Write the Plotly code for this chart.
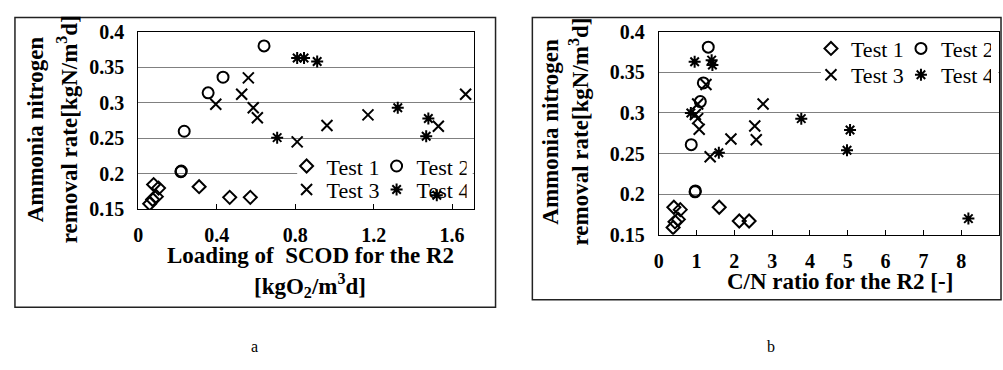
import plotly.graph_objects as go

W, H = 1003, 370

# ---------------- data: panel a (SCOD loading) ----------------
a_t1_x = [0.078, 0.103, 0.092, 0.073, 0.058, 0.31, 0.466, 0.571]
a_t1_y = [0.185, 0.180, 0.168, 0.164, 0.158, 0.182, 0.167, 0.167]
a_t2_x = [0.234, 0.217, 0.219, 0.356, 0.432, 0.641]
a_t2_y = [0.260, 0.203, 0.204, 0.314, 0.336, 0.380]
a_t3_x = [0.395, 0.527, 0.561, 0.586, 0.607, 0.81, 0.962, 1.171, 1.530, 1.669]
a_t3_y = [0.298, 0.312, 0.335, 0.293, 0.279, 0.245, 0.268, 0.283, 0.267, 0.312]
a_t4_x = [0.81, 0.845, 0.912, 0.708, 1.323, 1.479, 1.468, 1.522]
a_t4_y = [0.363, 0.363, 0.358, 0.251, 0.293, 0.278, 0.253, 0.170]

# ---------------- data: panel b (C/N ratio) ----------------
b_t1_x = [0.40, 0.57, 0.52, 0.43, 0.38, 1.60, 2.13, 2.39]
b_t1_y = [0.184, 0.181, 0.169, 0.166, 0.159, 0.184, 0.167, 0.167]
b_t2_x = [0.86, 0.96, 0.97, 1.10, 1.18, 1.31]
b_t2_y = [0.261, 0.203, 0.204, 0.314, 0.337, 0.381]
b_t3_x = [1.25, 1.03, 2.76, 0.97, 1.03, 1.07, 1.36, 1.91, 2.54, 2.58]
b_t3_y = [0.335, 0.311, 0.311, 0.298, 0.293, 0.280, 0.246, 0.268, 0.284, 0.267]
b_t4_x = [0.95, 1.40, 1.42, 0.85, 1.59, 3.77, 5.06, 4.98, 8.19]
b_t4_y = [0.363, 0.365, 0.359, 0.300, 0.251, 0.293, 0.279, 0.254, 0.170]

names = ["Test 1", "Test 2", "Test 3", "Test 4"]
y_ticks = [0.15, 0.2, 0.25, 0.3, 0.35, 0.4]
a_x_ticks = [0, 0.4, 0.8, 1.2, 1.6]
b_x_ticks = [0, 1, 2, 3, 4, 5, 6, 7, 8, 9]

SERIF = "Liberation Serif"
symbols = ["diamond-open", "circle-open", "x-thin-open", "asterisk-open"]
sizes = [10, 11, 11, 10]

fig = go.Figure()

def px_x(p):
    return p / W

def px_y(p):
    return 1 - p / H

panels = [
    ("x", "y", [(a_t1_x, a_t1_y), (a_t2_x, a_t2_y), (a_t3_x, a_t3_y), (a_t4_x, a_t4_y)], ["legend", "legend", "legend2", "legend2"]),
    ("x2", "y2", [(b_t1_x, b_t1_y), (b_t2_x, b_t2_y), (b_t3_x, b_t3_y), (b_t4_x, b_t4_y)], ["legend3", "legend3", "legend4", "legend4"]),
]
for xa, ya, series, legs in panels:
    for i, (xs, ys) in enumerate(series):
        fig.add_trace(go.Scatter(
            x=xs, y=ys, mode="markers", name=names[i], xaxis=xa, yaxis=ya,
            legend=legs[i],
            marker=dict(symbol=symbols[i], size=sizes[i], color="black",
                        line=dict(color="black", width=2)),
        ))

tickfont = dict(family=SERIF, size=20, color="black", weight="bold")
common_y = dict(range=[0.15, 0.4], tickvals=y_ticks,
                showgrid=True, gridcolor="#808080",
                gridwidth=1, showline=True, mirror=True, linecolor="black", linewidth=1,
                zeroline=False, ticks="", tickfont=tickfont, ticklabelstandoff=9)
common_x = dict(showgrid=False, showline=True, mirror=True, linecolor="black", linewidth=1,
                zeroline=False, ticks="inside", ticklen=5, tickcolor="black", tickwidth=1,
                tickfont=tickfont, ticklabelstandoff=8)

fig.update_layout(
    width=W, height=H, margin=dict(l=0, r=0, t=0, b=0),
    paper_bgcolor="white", plot_bgcolor="white",
    xaxis=dict(domain=[px_x(134), px_x(471)], range=[0, 1.71], tickvals=a_x_ticks,
               anchor="y", **common_x),
    yaxis=dict(domain=[px_y(211), px_y(22)], anchor="x", **common_y),
    xaxis2=dict(domain=[px_x(657), px_x(999)], range=[0, 9], tickvals=b_x_ticks,
                anchor="y2", **common_x),
    yaxis2=dict(domain=[px_y(238), px_y(22)], anchor="x2", **common_y),
    showlegend=True,
)

legfont = dict(family=SERIF, size=22, color="black")
def leg(xp, yp):
    return dict(x=px_x(xp), y=px_y(yp), xanchor="left", yanchor="middle", orientation="h",
                bgcolor="rgba(0,0,0,0)", borderwidth=0, font=legfont, entrywidth=45,
                tracegroupgap=0, itemwidth=30)
fig.update_layout(legend=leg(283, 165), legend2=leg(283, 190),
                  legend3=leg(810, 40), legend4=leg(810, 68))

shapes = [
    # outer frames
    dict(type="rect", xref="paper", yref="paper", x0=px_x(10), x1=px_x(493), y0=px_y(315), y1=px_y(7),
         line=dict(color="#222", width=1.5), fillcolor="rgba(0,0,0,0)"),
    dict(type="rect", xref="paper", yref="paper", x0=px_x(530), x1=px_x(1001), y0=px_y(307), y1=px_y(7),
         line=dict(color="#222", width=1.5), fillcolor="rgba(0,0,0,0)"),
    # legend backgrounds hiding gridlines
    dict(type="rect", xref="x", yref="y", x0=0.81, x1=1.705, y0=0.195, y1=0.205, layer="between",
         line=dict(width=0), fillcolor="white"),
    dict(type="rect", xref="x2", yref="y2", x0=4.29, x1=8.98, y0=0.345, y1=0.355, layer="between",
         line=dict(width=0), fillcolor="white"),
]
fig.update_layout(shapes=shapes)

tfont = dict(family=SERIF, size=23, color="black", weight="bold")
def ann(text, xp, yp, angle=0, font=tfont):
    fig.add_annotation(text=text, x=px_x(xp), y=px_y(yp), xref="paper", yref="paper",
                       xanchor="center", yanchor="middle", showarrow=False, textangle=angle, font=font)

ann("Ammonia nitrogen", 31, 126, -90)
ann("removal rate[kgN/m<sup>3</sup>d]", 63, 126, -90)
ann("Loading of  SCOD for the R2", 307, 260)
ann("[kgO<sub>2</sub>/m<sup>3</sup>d]", 307, 292)
ann("Ammonia nitrogen", 548, 128, -90)
ann("removal rate[kgN/m<sup>3</sup>d]", 577, 128, -90)
ann("C/N ratio for the R2 [-]", 839, 288)
ann("a", 251, 357, font=dict(family=SERIF, size=16, color="black"))
ann("b", 770, 357, font=dict(family=SERIF, size=16, color="black"))

fig.write_html("out.html")
